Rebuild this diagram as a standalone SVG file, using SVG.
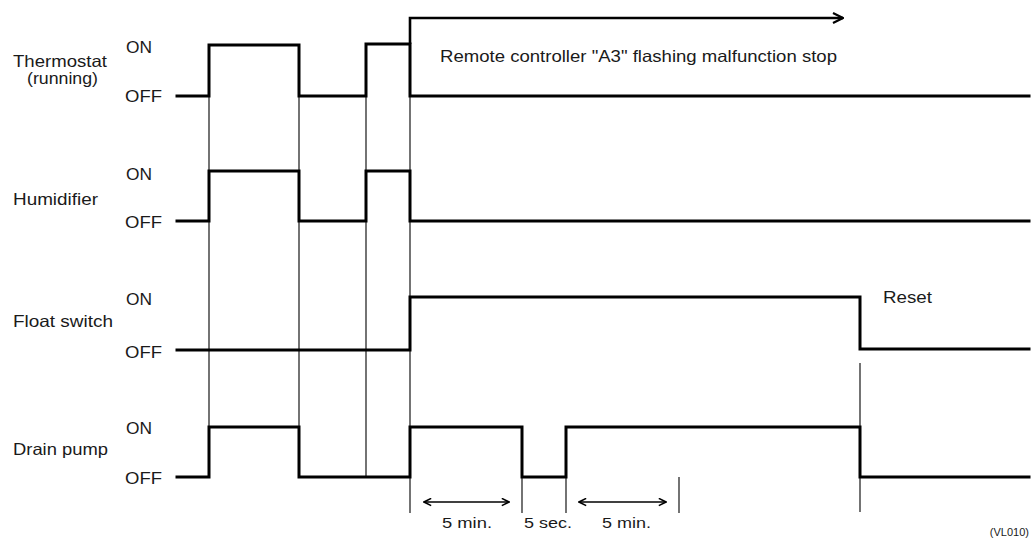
<svg xmlns="http://www.w3.org/2000/svg" width="1033" height="552" viewBox="0 0 1033 552">
  <defs>
    <style>
      text { font-family: "Liberation Sans", Arial, sans-serif; fill: #1a1a1a; }
      .lbl { font-size: 16.5px; }
      .lvl { font-size: 16.5px; }
      .dim { font-size: 15.5px; }
      .ref { font-size: 11px; }
      .wave { fill: none; stroke: #000; stroke-width: 3; stroke-linejoin: miter; stroke-linecap: square; }
      .guide { fill: none; stroke: #000; stroke-width: 1.1; }
      .dimline { fill: none; stroke: #000; stroke-width: 1.4; }
      .arrowline { fill: none; stroke: #000; stroke-width: 2.6; }
    </style>
    <marker id="openHead" viewBox="0 0 12 12" refX="11" refY="6" markerWidth="12" markerHeight="12" markerUnits="userSpaceOnUse" orient="auto-start-reverse">
      <path d="M1,1 L11,6 L1,11" fill="none" stroke="#000" stroke-width="2.2"/>
    </marker>
    <marker id="smallHead" viewBox="0 0 10 10" refX="9" refY="5" markerWidth="9" markerHeight="9" markerUnits="userSpaceOnUse" orient="auto-start-reverse">
      <path d="M1,1 L9,5 L1,9" fill="none" stroke="#000" stroke-width="1.8"/>
    </marker>
  </defs>

  <!-- timing guides and interval markers -->
  <g id="connectors">
    <line class="guide" x1="209" y1="96" x2="209" y2="477"/>
    <line class="guide" x1="299" y1="96" x2="299" y2="477"/>
    <line class="guide" x1="366" y1="96" x2="366" y2="477"/>
    <line class="guide" x1="410" y1="96" x2="410" y2="513"/>
    <line class="guide" x1="522" y1="477" x2="522" y2="513"/>
    <line class="guide" x1="566" y1="477" x2="566" y2="513"/>
    <line class="guide" x1="679" y1="477" x2="679" y2="513"/>
    <line class="guide" x1="860" y1="363" x2="860" y2="512"/>
    <!-- malfunction stop arrow -->
    <path class="arrowline" d="M410,44 V18 H843" marker-end="url(#openHead)"/>
    <!-- interval arrows -->
    <line class="dimline" x1="424" y1="502" x2="509" y2="502" marker-start="url(#smallHead)" marker-end="url(#smallHead)"/>
    <line class="dimline" x1="579" y1="502" x2="666" y2="502" marker-start="url(#smallHead)" marker-end="url(#smallHead)"/>
  </g>

  <g id="thermostat">
    <text class="lbl" x="13" y="67" textLength="94" lengthAdjust="spacingAndGlyphs">Thermostat</text>
    <text class="lbl" x="27" y="84" textLength="71" lengthAdjust="spacingAndGlyphs">(running)</text>
    <text class="lvl" x="126" y="53" textLength="26" lengthAdjust="spacingAndGlyphs">ON</text>
    <text class="lvl" x="125" y="102" textLength="37" lengthAdjust="spacingAndGlyphs">OFF</text>
    <path class="wave" d="M177,96 H209 V45 H299 V96 H366 V44 H410 V96 H1029"/>
  </g>

  <g id="malfunction-note">
    <text class="lbl" x="440" y="62" textLength="397" lengthAdjust="spacingAndGlyphs">Remote controller "A3" flashing malfunction stop</text>
  </g>

  <g id="humidifier">
    <text class="lbl" x="13" y="205" textLength="85" lengthAdjust="spacingAndGlyphs">Humidifier</text>
    <text class="lvl" x="126" y="180" textLength="26" lengthAdjust="spacingAndGlyphs">ON</text>
    <text class="lvl" x="125" y="228" textLength="37" lengthAdjust="spacingAndGlyphs">OFF</text>
    <path class="wave" d="M177,221 H209 V171 H299 V221 H366 V171 H410 V221 H1029"/>
  </g>

  <g id="float-switch">
    <text class="lbl" x="13" y="327" textLength="100" lengthAdjust="spacingAndGlyphs">Float switch</text>
    <text class="lvl" x="126" y="305" textLength="26" lengthAdjust="spacingAndGlyphs">ON</text>
    <text class="lvl" x="125" y="358" textLength="37" lengthAdjust="spacingAndGlyphs">OFF</text>
    <path class="wave" d="M177,350 H410 V297 H860 V349 H1029"/>
    <text class="lbl" x="883" y="303" textLength="49" lengthAdjust="spacingAndGlyphs">Reset</text>
  </g>

  <g id="drain-pump">
    <text class="lbl" x="13" y="455" textLength="95" lengthAdjust="spacingAndGlyphs">Drain pump</text>
    <text class="lvl" x="126" y="434" textLength="26" lengthAdjust="spacingAndGlyphs">ON</text>
    <text class="lvl" x="125" y="484" textLength="37" lengthAdjust="spacingAndGlyphs">OFF</text>
    <path class="wave" d="M177,477 H209 V427 H299 V477 H410 V427 H522 V477 H566 V427 H860 V477 H1029"/>
  </g>

  <g id="intervals">
    <text class="dim" x="442" y="528" textLength="50" lengthAdjust="spacingAndGlyphs">5 min.</text>
    <text class="dim" x="524" y="528" textLength="48" lengthAdjust="spacingAndGlyphs">5 sec.</text>
    <text class="dim" x="602" y="528" textLength="49" lengthAdjust="spacingAndGlyphs">5 min.</text>
  </g>

  <text class="ref" x="1029" y="536" text-anchor="end">(VL010)</text>
</svg>
